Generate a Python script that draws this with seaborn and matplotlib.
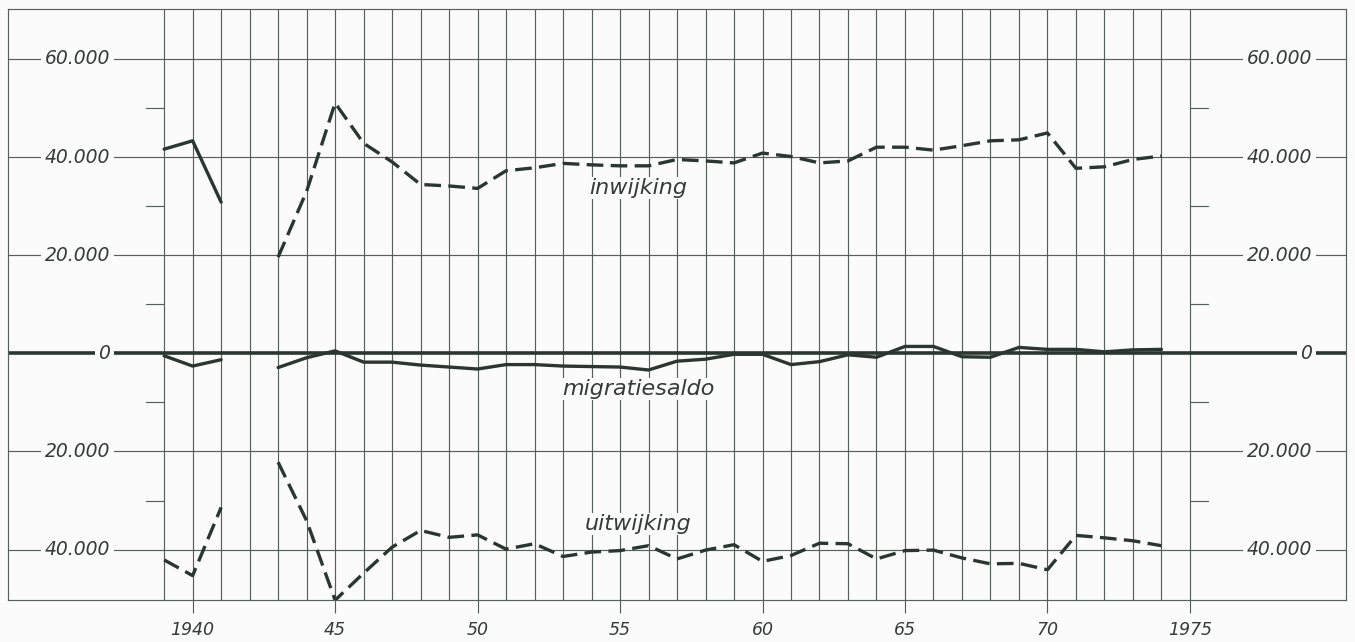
import pandas as pd
import seaborn as sns
import matplotlib.pyplot as plt

# jaren (1942 ontbreekt)
years_pre = [1939, 1940, 1941]
years_post = list(range(1943, 1975))

# inwijking
inwijking_pre = [41600, 43300, 30800]
inwijking_post = [19600, 33000, 51000, 42800, 39000, 34400, 34100, 33600,
                  37200, 37800, 38700, 38400, 38200, 38200, 39500, 39200,
                  38800, 40800, 40100, 38800, 39200, 42000, 42000, 41400,
                  42300, 43300, 43500, 44900, 37700, 38000, 39500, 40200]

# uitwijking (naar beneden uitgezet)
uitwijking_pre = [-42100, -45300, -31400]
uitwijking_post = [-22200, -34100, -50300, -44800, -39500, -36100, -37500, -37000,
                   -39900, -38800, -41400, -40500, -40200, -39200, -41900, -40100,
                   -39000, -42400, -41200, -38700, -38800, -41900, -40200, -40100,
                   -41700, -42900, -42800, -44100, -37100, -37600, -38200, -39200]

# migratiesaldo
saldo_pre = [-500, -2600, -1300]
saldo_post = [-2900, -900, 500, -1800, -1800, -2400, -2800, -3200,
              -2300, -2300, -2600, -2700, -2800, -3400, -1600, -1200,
              -200, -200, -2300, -1700, -300, -800, 1400, 1400,
              -700, -800, 1200, 800, 800, 300, 700, 800]

y_ticks = [60000, 40000, 20000, 0, -20000, -40000]
y_labels = ["60.000", "40.000", "20.000", "0", "20.000", "40.000"]
y_minor = [50000, 30000, 10000, -10000, -30000]
x_ticks = [1940, 1945, 1950, 1955, 1960, 1965, 1970, 1975]
x_labels = ["1940", "45", "50", "55", "60", "65", "70", "1975"]

rows = []
for name, pre, post in [("inwijking", inwijking_pre, inwijking_post),
                        ("uitwijking", uitwijking_pre, uitwijking_post),
                        ("migratiesaldo", saldo_pre, saldo_post)]:
    for y, v in zip(years_pre, pre):
        rows.append((name, "voor", y, v))
    for y, v in zip(years_post, post):
        rows.append((name, "na", y, v))
df = pd.DataFrame(rows, columns=["reeks", "deel", "jaar", "aantal"])

sns.set_style("white")
plt.rcParams["font.family"] = ["DejaVu Sans"]

ink = "#2a3630"
grid = "#56605b"
txt = "#353b38"
bg = "#fbfbfb"

fig = plt.figure(figsize=(13.55, 6.42), dpi=100, facecolor=bg)
ax = fig.add_axes([0.0059, 0.0654, 0.9875, 0.9206])
ax.set_facecolor(bg)
ax.set_xlim(1933.52, 1980.48)
ax.set_ylim(-50270, 70160)

# raster: verticale lijnen per jaar, horizontale per 20.000
for yr in range(1939, 1976):
    ax.axvline(yr, color=grid, lw=0.85, zorder=1)
for v in y_ticks:
    ax.axhline(v, color=grid if v != 0 else ink, lw=0.85 if v != 0 else 2.6, zorder=1)
for v in y_minor:
    ax.plot([1938.37, 1939], [v, v], color=grid, lw=0.85, zorder=1)
    ax.plot([1975, 1975.63], [v, v], color=grid, lw=0.85, zorder=1)

# labels op de as, met achtergrond zodat de lijn onderbroken wordt
box = dict(facecolor=bg, edgecolor="none", pad=2.5)
for v, lab in zip(y_ticks, y_labels):
    ax.text(1937.1, v, lab, ha="right", va="center", fontsize=13.5, style="italic",
            color=txt, bbox=box, zorder=3)
    ax.text(1979.3, v, lab, ha="right", va="center", fontsize=13.5, style="italic",
            color=txt, bbox=box, zorder=3)

# de reeksen
dashed = (0, (5, 2.2))
for (name, deel), sub in df.groupby(["reeks", "deel"]):
    if name == "migratiesaldo" or (name == "inwijking" and deel == "voor"):
        ls = "-"
    else:
        ls = dashed
    sns.lineplot(data=sub, x="jaar", y="aantal", ax=ax, color=ink, lw=2.4,
                 linestyle=ls, zorder=4)

lbox = dict(facecolor=bg, edgecolor="none", pad=1.0)
ax.text(1955.63, 33700, "inwijking", ha="center", va="center", fontsize=16,
        style="italic", color=txt, bbox=lbox, zorder=3)
ax.text(1955.63, -7300, "migratiesaldo", ha="center", va="center", fontsize=16,
        style="italic", color=txt, bbox=lbox, zorder=3)
ax.text(1955.63, -34800, "uitwijking", ha="center", va="center", fontsize=16,
        style="italic", color=txt, bbox=lbox, zorder=3)

ax.set_xticks(x_ticks)
ax.set_xticklabels(x_labels, fontsize=12.5, style="italic", color=txt)
ax.set_yticks([])
ax.tick_params(axis="x", direction="out", length=9, width=0.85, color=grid, pad=6,
               bottom=True)
ax.set_xlabel("")
ax.set_ylabel("")
for s in ax.spines.values():
    s.set_color(grid)
    s.set_linewidth(0.85)
    s.set_visible(True)

fig.savefig("out.png", dpi=100, facecolor=fig.get_facecolor())
